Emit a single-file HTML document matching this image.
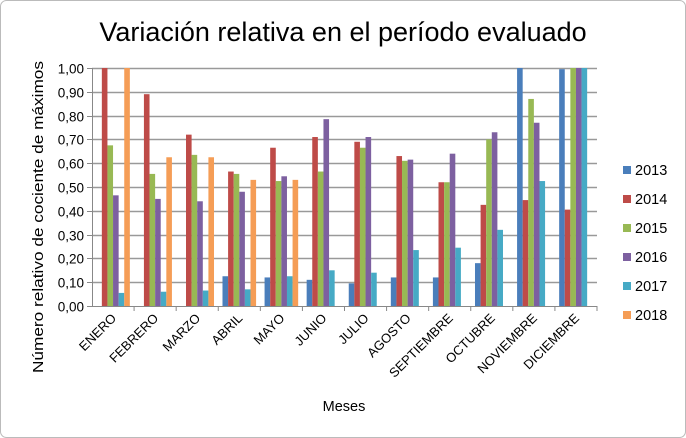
<!DOCTYPE html>
<html><head><meta charset="utf-8"><style>
body{margin:0;background:#fff;}
svg{display:block;font-family:"Liberation Sans",sans-serif;}
</style></head><body>
<svg id="chart" width="686" height="438" xmlns="http://www.w3.org/2000/svg">
<rect x="0.5" y="0.5" width="685" height="437" rx="6" fill="#fff" stroke="#bbb"/>
<text x="343" y="41" font-size="27" text-anchor="middle" fill="#000">Variación relativa en el período evaluado</text>
<g id="grid"></g>
<g id="bars"></g>
<g id="axes"></g>
<text transform="translate(43,217) rotate(-90)" font-size="14.5" text-anchor="middle" textLength="312" lengthAdjust="spacingAndGlyphs">Número relativo de cociente de máximos</text>
<text x="344" y="411" font-size="14.5" text-anchor="middle">Meses</text>
<g id="legend"></g>
</svg>
<script>
const categories=["ENERO","FEBRERO","MARZO","ABRIL","MAYO","JUNIO","JULIO","AGOSTO","SEPTIEMBRE","OCTUBRE","NOVIEMBRE","DICIEMBRE"];
const seriesNames=["2013","2014","2015","2016","2017","2018"];
const s2013=[0,0,0,0.125,0.12,0.11,0.095,0.12,0.12,0.18,1.0,0.995];
const s2014=[1.0,0.89,0.72,0.565,0.665,0.71,0.69,0.63,0.52,0.425,0.445,0.405];
const s2015=[0.675,0.555,0.635,0.555,0.525,0.565,0.665,0.61,0.52,0.70,0.87,1.0];
const s2016=[0.465,0.45,0.44,0.48,0.545,0.785,0.71,0.615,0.64,0.73,0.77,1.0];
const s2017=[0.055,0.06,0.065,0.07,0.125,0.15,0.14,0.235,0.245,0.32,0.525,1.0];
const s2018=[1.0,0.625,0.625,0.53,0.53,0,0,0,0,0,0,0];
const yTicks=["0,00","0,10","0,20","0,30","0,40","0,50","0,60","0,70","0,80","0,90","1,00"];
const series=[s2013,s2014,s2015,s2016,s2017,s2018];
const colors=["#4a7ebb","#be4b48","#98b954","#7d60a0","#46aac5","#f59d56"];
const NS="http://www.w3.org/2000/svg";
const X0=92,X1=597,Y0=306,Y1=68;
const gw=(X1-X0)/categories.length;
const y=v=>Y0-v*(Y0-Y1);
function mk(tag,attrs,parent){const e=document.createElementNS(NS,tag);for(const k in attrs)e.setAttribute(k,attrs[k]);parent.appendChild(e);return e;}
const grid=document.getElementById('grid'),bars=document.getElementById('bars'),axes=document.getElementById('axes'),legend=document.getElementById('legend');
yTicks.forEach((t,i)=>{const v=i/10;const yy=Math.round(y(v))+0.5;
 if(i>0){const l=mk('line',{x1:X0,x2:X1,y1:yy,y2:yy,stroke:'#999','stroke-width':1.5},grid);
 
 }
 mk('line',{x1:X0-5,x2:X0,y1:yy,y2:yy,stroke:'#888'},axes);
 const tx=mk('text',{x:X0-8,y:yy+5,'font-size':13.5,'text-anchor':'end'},axes);tx.textContent=t;
 
 
});
mk('line',{x1:X0+0.5,x2:X0+0.5,y1:Y1,y2:Y0,stroke:'#888'},axes);
mk('line',{x1:X0,x2:X1,y1:Y0+0.5,y2:Y0+0.5,stroke:'#888'},axes);
const bw=5.6,pad=(gw-bw*6)/2;
categories.forEach((c,i)=>{
 const gx=X0+i*gw;
 mk('line',{x1:gx+gw,x2:gx+gw,y1:Y0,y2:Y0+5,stroke:'#888'},axes);
 series.forEach((s,j)=>{const v=s[i];if(v<=0)return;
  const r=mk('rect',{x:gx+pad+j*bw,y:y(v),width:bw,height:Y0-y(v),fill:colors[j]},bars);
  
  
 });
 const cx=gx+gw/2+4;
 const t=mk('text',{transform:`translate(${cx},${Y0+13}) rotate(-45)`,'font-size':13,'text-anchor':'end'},axes);
 t.textContent=c;
 
 
});
seriesNames.forEach((n,j)=>{const yy=170+j*29;
 const g=mk('g',{},legend);
 
 
 mk('rect',{x:623,y:yy-4,width:8,height:8,fill:colors[j]},g);
 const t=mk('text',{x:635,y:yy+5,'font-size':14.5},g);t.textContent=n;
});
</script>
</body></html>
